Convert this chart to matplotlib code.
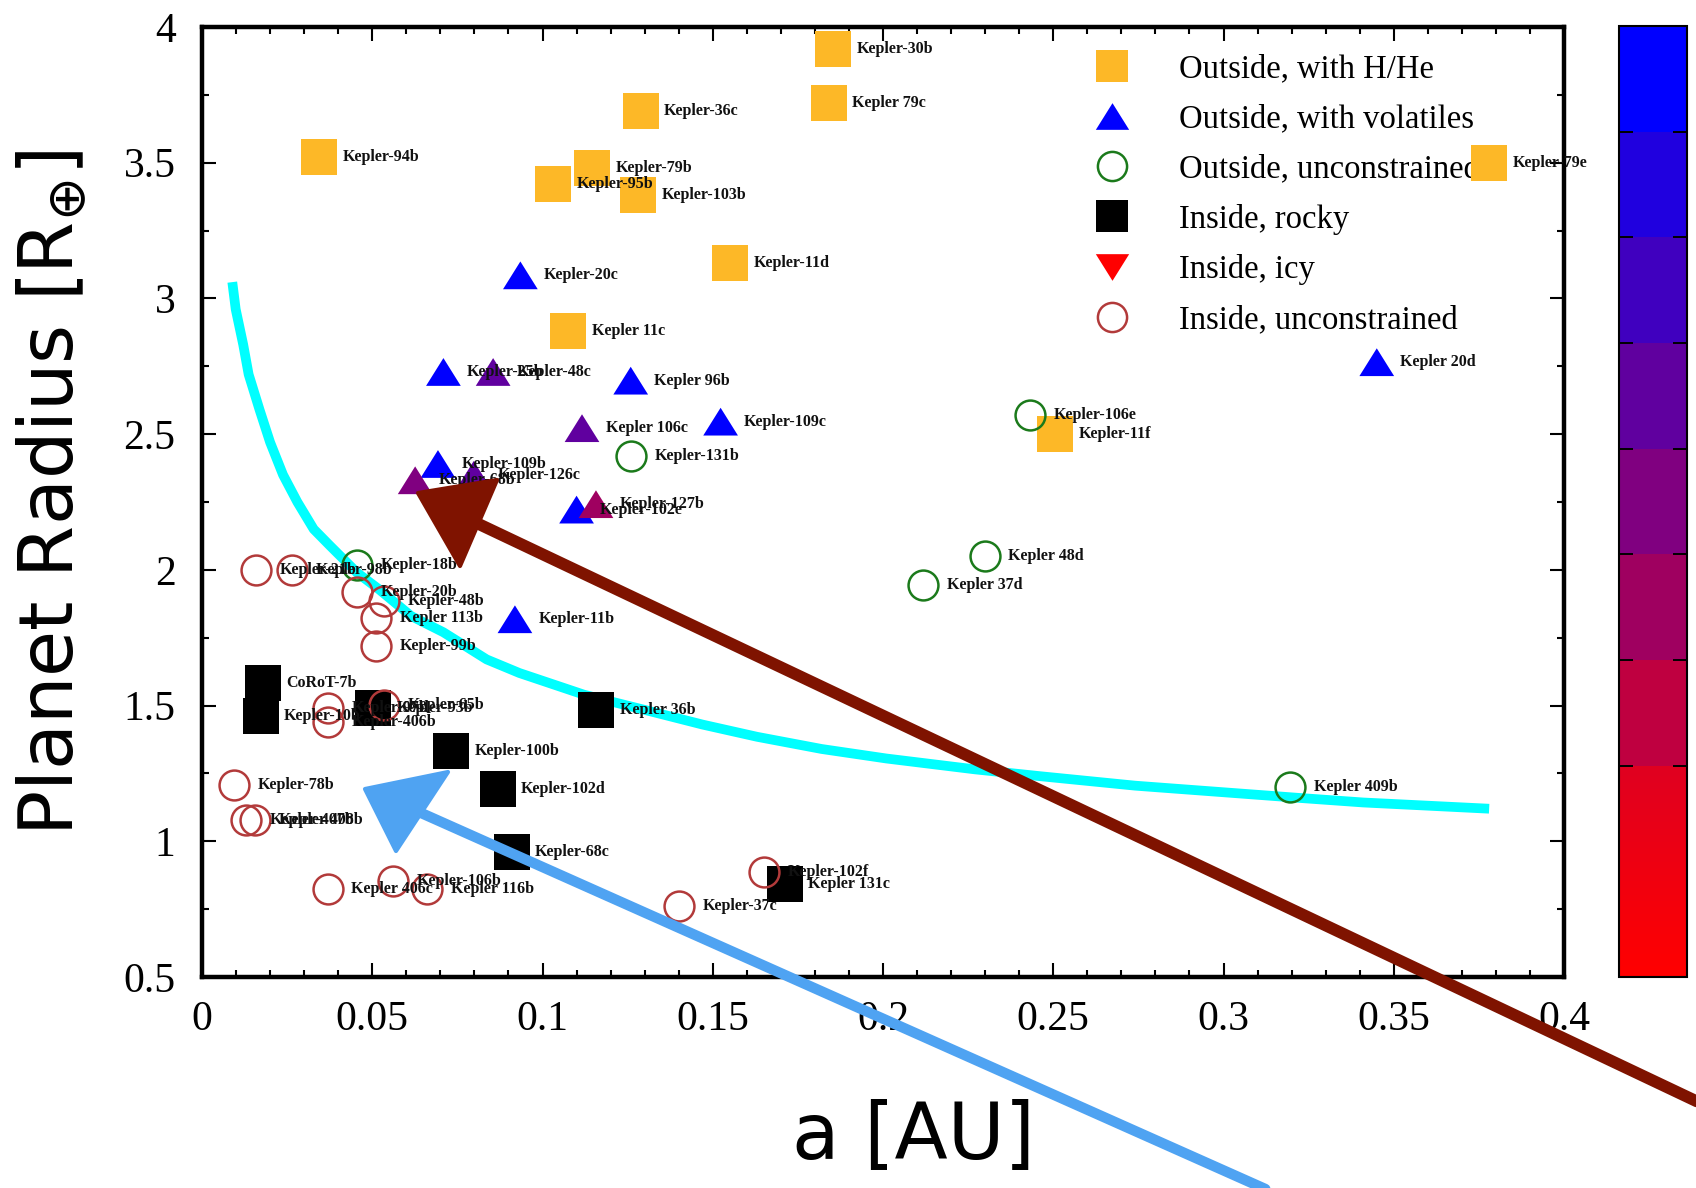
import matplotlib
matplotlib.use("Agg")
import matplotlib.pyplot as plt
import numpy as np
from matplotlib.colors import ListedColormap, Normalize, to_rgb
from matplotlib.lines import Line2D
from matplotlib.patches import Polygon
from matplotlib.ticker import MultipleLocator, FixedLocator

plt.rcParams["mathtext.fontset"] = "dejavusans"

# ---------------------------------------------------------------- data
# Outside, with H/He
hhe_names = ["Kepler-30b", "Kepler 79c", "Kepler-36c", "Kepler-94b", "Kepler-79b",
             "Kepler-95b", "Kepler-103b", "Kepler-11d", "Kepler 11c", "Kepler-11f",
             "Kepler-79e"]
hhe_a = [0.1854, 0.1841, 0.1288, 0.0343, 0.1145, 0.1030, 0.1281, 0.1552, 0.1075,
         0.2506, 0.3781]
hhe_r = [3.92, 3.72, 3.69, 3.52, 3.48, 3.42, 3.38, 3.13, 2.88, 2.50, 3.50]

# Outside, with volatiles (colour = composition level on the colour bar)
vol_names = ["Kepler-20c", "Kepler 20d", "Kepler-25b", "Kepler-48c", "Kepler 96b",
             "Kepler 106c", "Kepler-109c", "Kepler-109b", "Kepler-68b", "Kepler-126c",
             "Kepler-102e", "Kepler-127b", "Kepler-11b"]
vol_a = [0.0935, 0.3450, 0.0709, 0.0855, 0.1259, 0.1116, 0.1523, 0.0693, 0.0626,
         0.0798, 0.1100, 0.1157, 0.0919]
vol_r = [3.085, 2.765, 2.729, 2.729, 2.697, 2.522, 2.546, 2.390, 2.330, 2.350,
         2.222, 2.242, 1.818]
vol_level = [0.944, 0.944, 0.944, 0.611, 0.944, 0.611, 0.944, 0.944, 0.500, 0.611,
             0.944, 0.389, 0.944]

# Outside, unconstrained
ou_names = ["Kepler-131b", "Kepler-106e", "Kepler 48d", "Kepler 37d", "Kepler-18b",
            "Kepler 409b"]
ou_a = [0.1259, 0.2432, 0.2299, 0.2118, 0.0455, 0.3196]
ou_r = [2.418, 2.570, 2.050, 1.946, 2.018, 1.199]

# Inside, rocky
rocky_names = ["CoRoT-7b", "Kepler-10b", "Kepler-93b", "Kepler 36b", "Kepler-100b",
               "Kepler-102d", "Kepler-68c", "Kepler 131c"]
rocky_a = [0.0178, 0.0172, 0.0502, 0.1157, 0.0731, 0.0868, 0.0909, 0.1711]
rocky_r = [1.583, 1.463, 1.491, 1.483, 1.331, 1.191, 0.959, 0.844]

# Inside, icy (no planets in this sample)
icy_a = []
icy_r = []

# Inside, unconstrained
iu_names = ["Kepler-21b", "Kepler-98b", "Kepler-20b", "Kepler-48b", "Kepler 113b",
            "Kepler-99b", "Kepler-97b", "Kepler-406b", "Kepler-65b", "Kepler-78b",
            "Kepler-407b", "Kepler 408b", "Kepler 406c", "Kepler-106b", "Kepler 116b",
            "Kepler-37c", "Kepler-102f"]
iu_a = [0.0159, 0.0264, 0.0455, 0.0534, 0.0512, 0.0512, 0.0369, 0.0369, 0.0534,
        0.0095, 0.0130, 0.0156, 0.0369, 0.0560, 0.0661, 0.1402, 0.1650]
iu_r = [1.998, 1.998, 1.918, 1.886, 1.822, 1.718, 1.491, 1.439, 1.503, 1.207,
        1.079, 1.079, 0.824, 0.852, 0.824, 0.760, 0.888]

# Boundary curve
curve_a = [0.0089, 0.0099, 0.0121, 0.0137, 0.0169, 0.0200, 0.0238, 0.0280, 0.0328,
           0.0375, 0.0455, 0.0518, 0.0614, 0.0709, 0.0836, 0.0932, 0.1122, 0.1313,
           0.1470, 0.1630, 0.1820, 0.2010, 0.2270, 0.2460, 0.2740, 0.2900, 0.3220,
           0.3410, 0.3780]
curve_r = [3.06, 2.96, 2.83, 2.72, 2.59, 2.47, 2.35, 2.25, 2.15, 2.09, 1.99, 1.93,
           1.83, 1.77, 1.67, 1.62, 1.54, 1.48, 1.43, 1.385, 1.34, 1.305, 1.265, 1.24,
           1.205, 1.19, 1.16, 1.143, 1.12]

x_ticks = [0, 0.05, 0.1, 0.15, 0.2, 0.25, 0.3, 0.35, 0.4]
x_tick_labels = ["0", "0.05", "0.1", "0.15", "0.2", "0.25", "0.3", "0.35", "0.4"]
y_ticks = [0.5, 1, 1.5, 2, 2.5, 3, 3.5, 4]
y_tick_labels = ["0.5", "1", "1.5", "2", "2.5", "3", "3.5", "4"]

legend_labels = ["Outside, with H/He", "Outside, with volatiles", "Outside, unconstrained",
                 "Inside, rocky", "Inside, icy", "Inside, unconstrained"]

# colour bar: red (bottom) to blue (top); lowest two bands blend smoothly
band_colors = ["#BF0040", "#9F0060", "#800080", "#60009F", "#4000BF", "#2000DF", "#0000FF"]
low_colors = ["#FF0000", "#DF0020"]
cbar_bounds = [2 / 9, 3 / 9, 4 / 9, 5 / 9, 6 / 9, 7 / 9, 8 / 9]

# ---------------------------------------------------------------- styles
ORANGE = "#FDB827"
BLUE = "#0000FF"
GREEN = "#1B7A1B"
DARKRED = "#B23A3A"
SERIF = "Liberation Serif"
W, H = 1696, 1188

tri_up = [(-1, -0.8), (1, -0.8), (0, 0.8)]
tri_down = [(-1, 0.8), (1, 0.8), (0, -0.8)]

lo = np.array(to_rgb(low_colors[0]))
hi = np.array(to_rgb(low_colors[1]))
cols = [lo + (hi - lo) * t for t in np.linspace(0, 1, 200)]
for c in band_colors:
    cols += [np.array(to_rgb(c))] * 100
cmap = ListedColormap(np.array(cols))
norm = Normalize(0, 1)

fig = plt.figure(figsize=(W / 100, H / 100), dpi=100)
ax = fig.add_axes([0.1191, 0.1776, 0.8031, 0.7997])
cax = fig.add_axes([0.9546, 0.1776, 0.0401, 0.8005])

# boundary curve
ax.plot(curve_a, curve_r, color="#00FFFF", lw=7, solid_joinstyle="round",
        solid_capstyle="butt", zorder=2)

SQ = 26.5
CI = 21.5
TR = 25

ax.plot(hhe_a, hhe_r, ls="none", marker="s", ms=SQ, color=ORANGE, mew=0, zorder=3)
sc = ax.scatter(vol_a, vol_r, c=vol_level, cmap=cmap, norm=norm, marker=tri_up,
                s=TR ** 2, linewidths=0, zorder=3)
ax.plot(ou_a, ou_r, ls="none", marker="o", ms=CI, mfc="none", mec=GREEN, mew=1.8, zorder=3)
ax.plot(rocky_a, rocky_r, ls="none", marker="s", ms=SQ, color="black", mew=0, zorder=3)
ax.plot(icy_a, icy_r, ls="none", marker=tri_down, ms=TR, color="red", mew=0, zorder=3)
ax.plot(iu_a, iu_r, ls="none", marker="o", ms=CI, mfc="none", mec=DARKRED, mew=1.8, zorder=3)

label_kw = dict(xytext=(17, 0), textcoords="offset points", va="center", ha="left",
                fontsize=11.5, fontweight="bold", family=SERIF, color="#111111", zorder=4)
for names, xs, ys in [(hhe_names, hhe_a, hhe_r), (vol_names, vol_a, vol_r),
                      (ou_names, ou_a, ou_r), (rocky_names, rocky_a, rocky_r),
                      (iu_names, iu_a, iu_r)]:
    for n, x, y in zip(names, xs, ys):
        ax.annotate(n, (x, y), **label_kw)

# axes
ax.set_xlim(0, 0.4)
ax.set_ylim(0.5, 4)
ax.xaxis.set_major_locator(FixedLocator(x_ticks))
ax.set_xticklabels(x_tick_labels)
ax.xaxis.set_minor_locator(MultipleLocator(0.01))
ax.yaxis.set_major_locator(FixedLocator(y_ticks))
ax.set_yticklabels(y_tick_labels)
ax.yaxis.set_minor_locator(MultipleLocator(0.25))
for s in ax.spines.values():
    s.set_linewidth(3.2)
ax.tick_params(which="both", direction="in", top=True, right=True, width=1.5)
ax.tick_params(which="major", length=10)
ax.tick_params(which="minor", length=5)
ax.tick_params(axis="x", which="major", pad=17)
ax.tick_params(axis="y", which="major", pad=19)
for lab in ax.get_xticklabels() + ax.get_yticklabels():
    lab.set_family(SERIF)
    lab.set_fontsize(30)

ax.set_xlabel("a [AU]", family="DejaVu Sans", fontsize=56, va="center", ha="center")
ax.xaxis.set_label_coords(0.522, -0.167)
ax.set_ylabel(r"Planet Radius [R$_{\oplus}$]", family="DejaVu Sans", fontsize=54,
              va="center", ha="center")
ax.yaxis.set_label_coords(-0.110, 0.51)

# legend
handles = [
    Line2D([], [], ls="none", marker="s", ms=23, color=ORANGE, mew=0),
    Line2D([], [], ls="none", marker=tri_up, ms=24, color=BLUE, mew=0),
    Line2D([], [], ls="none", marker="o", ms=21, mfc="none", mec=GREEN, mew=1.8),
    Line2D([], [], ls="none", marker="s", ms=23, color="black", mew=0),
    Line2D([], [], ls="none", marker=tri_down, ms=24, color="red", mew=0),
    Line2D([], [], ls="none", marker="o", ms=21, mfc="none", mec=DARKRED, mew=1.8),
]
leg = ax.legend(handles, legend_labels, loc="upper left", bbox_to_anchor=(0.656, 0.972),
                frameon=False, prop={"family": SERIF, "size": 23.5}, handlelength=1.0,
                handletextpad=1.55, labelspacing=0.6, borderpad=0, borderaxespad=0)
leg.set_zorder(1.5)

# colour bar
cb = fig.colorbar(sc, cax=cax, ticks=cbar_bounds)
cb.outline.set_linewidth(1.5)
cax.tick_params(axis="y", which="both", direction="in", left=True, right=True,
                length=10, width=1.4, labelleft=False, labelright=False)
cax.minorticks_off()


# hand-drawn pointer arrows (figure pixel positions, origin top-left)
def fig_xy(points):
    return [(x / W, 1 - y / H) for x, y in points]


arrows = [
    ("#7F1300", 8.5, [(466, 518), (1715, 1110)], [(418, 493), (497, 480), (460, 566)]),
    ("#4FA3F2", 7.5, [(392, 800), (1290, 1200)], [(365, 789), (448, 772), (396, 851)]),
]
for color, lw, shaft, head in arrows:
    sx, sy = zip(*fig_xy(shaft))
    fig.add_artist(Line2D(sx, sy, transform=fig.transFigure, color=color, lw=lw,
                          solid_capstyle="round", zorder=5))
    fig.add_artist(Polygon(fig_xy(head), closed=True, transform=fig.transFigure,
                           facecolor=color, edgecolor=color, lw=3, joinstyle="round",
                           zorder=5))

fig.savefig("out.png", dpi=100, facecolor="white")
